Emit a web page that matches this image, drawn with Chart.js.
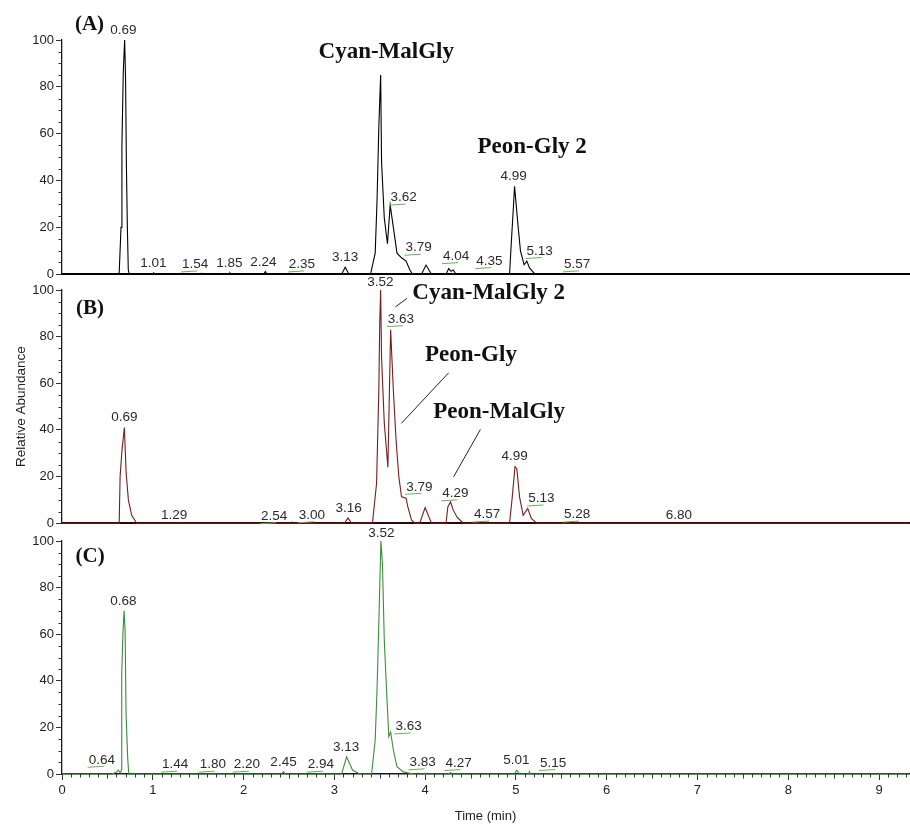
<!DOCTYPE html>
<html><head><meta charset="utf-8">
<script src="https://cdn.jsdelivr.net/npm/chart.js@4.4.1/dist/chart.umd.min.js"></script>
<style>
html,body{margin:0;padding:0;background:#fff;}
#wrap{position:relative;width:910px;height:826px;overflow:hidden;background:#fff;}
canvas{position:absolute;left:0;}
</style></head><body>
<div id="wrap">
<canvas id="cA" width="910" height="284" style="top:0px"></canvas>
<canvas id="cB" width="910" height="268" style="top:265px"></canvas>
<canvas id="cC" width="910" height="306" style="top:520px"></canvas>
</div>
<script>
// ---------- DATA ----------
// Panel A trace
const timeA = [0,0.61,0.63,0.65,0.66,0.675,0.69,0.70,0.71,0.72,0.73,0.74,1.00,1.01,1.02,1.53,1.54,1.55,1.84,1.85,1.86,2.22,2.24,2.26,3.08,3.12,3.16,3.40,3.45,3.47,3.49,3.51,3.52,3.55,3.585,3.615,3.65,3.69,3.74,3.79,3.83,3.86,3.96,4.01,4.07,4.23,4.26,4.285,4.31,4.34,4.93,4.95,4.97,4.985,5.00,5.025,5.05,5.08,5.09,5.12,5.15,5.21,9.33];
const abundanceA = [0,0,0.5,20,55,86,100,84,45,20,2,0,0,0.6,0,0,0.4,0,0,0.6,0,0,1.2,0,0,3,0,0.3,9,31,63,85,48,24,13,29.5,20,9,7,5.6,2,0,0,3.9,0,0,2.4,1.2,1.8,0,0,14,27,37.5,31,20,10,5.6,4,5.6,2.7,0,0];
// Panel B trace
const timeB = [0,0.63,0.64,0.66,0.687,0.706,0.731,0.768,0.823,1.28,1.29,1.30,2.53,2.54,2.55,3.11,3.15,3.19,3.42,3.465,3.49,3.50,3.51,3.52,3.55,3.59,3.62,3.65,3.68,3.71,3.74,3.79,3.81,3.85,3.89,3.94,4.00,4.07,4.23,4.25,4.28,4.31,4.35,4.42,4.56,4.57,4.58,4.93,4.96,4.99,5.01,5.04,5.08,5.13,5.17,5.23,9.33];
const abundanceB = [0,0,20,31,41,22,10,3.4,0,0,0.4,0,0,0.5,0,0,2.2,0,0.2,17,57,86,100,71,43,24,83,57,35.6,20,11.3,10.7,7,1.3,0,0,6.7,0,0,7,9.1,5.6,2.7,0,0,0.4,0,0,11.3,24.2,23.5,11.3,3.4,6.3,2,0,0];
// Panel C trace
const timeC = [0,0.55,0.60,0.62,0.645,0.655,0.658,0.672,0.684,0.695,0.706,0.724,0.735,2.42,2.44,2.46,3.08,3.135,3.20,3.28,3.41,3.45,3.47,3.49,3.513,3.53,3.55,3.575,3.60,3.62,3.65,3.69,3.76,3.83,3.90,3.99,4.00,4.01,4.26,4.28,4.30,4.98,5.01,5.04,5.14,5.15,5.16,9.33];
const abundanceC = [0,0,0.8,1.7,0.3,2,43,61,70,62,25,6.7,0,0,1,0,0,7.4,1.7,0,0,14.6,36,65,100,90,57.5,36,16,18,10.3,3.1,0.9,0.3,0,0,0.5,0,0,0.6,0,0,1.6,0,0,1,0,0];

// Retention-time labels shown above peaks
const peakRtA = ['0.69','1.01','1.54','1.85','2.24','2.35','3.13','3.62','3.79','4.04','4.35','4.99','5.13','5.57'];
const peakRtB = ['0.69','1.29','2.54','3.00','3.16','3.52','3.63','3.79','4.29','4.57','4.99','5.13','5.28','6.80'];
const peakRtC = ['0.68','0.64','1.44','1.80','2.20','2.45','2.94','3.13','3.52','3.63','3.83','4.27','5.01','5.15'];

// Compound names
const compoundsA = ['Cyan-MalGly','Peon-Gly 2'];
const compoundsB = ['Cyan-MalGly 2','Peon-Gly','Peon-MalGly'];
const panelNames = ['(A)','(B)','(C)'];

// Axis settings
const timeRange = [0, 9.33];
const abundanceRange = [0, 100];
const xTitle = 'Time (min)';
const yTitle = 'Relative Abundance';

// ---------- LAYOUT (positions of texts in data units) ----------
const rtPosA = [[0.676,104.0],[1.007,4.85],[1.466,4.16],[1.845,4.85],[2.219,5.28],[2.643,4.16],[3.12,7.3],[3.763,32.7],[3.928,11.3],[4.341,7.7],[4.708,5.6],[4.976,41.6],[5.262,9.9],[5.675,4.2]];
const rtLineA = [0,0,1,0,0,1,0,1,1,1,1,0,1,1];
const rtPosB = [[0.687,45.6],[1.235,3.4],[2.337,3.0],[2.753,3.4],[3.157,6.3],[3.506,103.4],[3.734,87.5],[3.936,15.6],[4.333,12.8],[4.682,3.7],[4.987,28.5],[5.281,10.6],[5.675,3.7],[6.795,3.4]];
const rtLineB = [0,0,1,1,0,0,1,1,1,1,0,1,1,0];
const rtPosC = [[0.676,74.1],[0.438,6.1],[1.246,4.0],[1.661,4.0],[2.036,4.0],[2.44,5.0],[2.852,4.0],[3.131,11.6],[3.517,103.4],[3.818,20.4],[3.972,5.0],[4.369,4.7],[5.006,5.8],[5.41,4.7]];
const rtLineC = [0,1,1,1,1,0,1,0,0,1,1,1,0,1];
const compoundPosA = [[3.572,95.0],[5.179,54.2]];
const compoundPosB = [[4.70,98.7],[4.504,72.2],[4.815,47.8]];
const leaderB = [[[3.671,92.7],[3.80,96.4]],[[4.259,64.5],[3.738,42.8]],[[4.609,40.2],[4.314,19.9]]];
const panelPos = [[0.303,106.4],[0.309,92.2],[0.309,93.1]];

const SANS = '"Liberation Sans", Arial, sans-serif';
const SERIF = '"Liberation Serif", "Times New Roman", serif';

function makeTextPlugin(cfg) {
  return {
    id: 'peakText' + cfg.idx,
    afterDatasetsDraw(chart) {
      const ctx = chart.ctx, x = chart.scales.x, y = chart.scales.y;
      const area = chart.chartArea;
      ctx.save();
      // minor y ticks every 5
      ctx.strokeStyle = '#333'; ctx.lineWidth = 1;
      for (let v = 5; v < 100; v += 5) {
        if (v % 20 === 0) continue;
        const py = Math.round(y.getPixelForValue(v)) + 0.5;
        ctx.beginPath(); ctx.moveTo(area.left - 3.5, py); ctx.lineTo(area.left, py); ctx.stroke();
      }
      if (cfg.showX) {
        for (let k = 1; k <= 93; k++) {
          if (k % 10 === 0) continue;
          const px = Math.round(x.getPixelForValue(k / 10)) + 0.5;
          const len = (k % 5 === 0) ? 4.5 : 3.5;
          ctx.beginPath(); ctx.moveTo(px, area.bottom); ctx.lineTo(px, area.bottom + len); ctx.stroke();
        }
      }
      // retention-time labels
      ctx.font = '13.5px ' + SANS;
      ctx.textAlign = 'center'; ctx.textBaseline = 'middle';
      cfg.rt.forEach((txt, i) => {
        const px = x.getPixelForValue(cfg.rtPos[i][0]);
        const py = y.getPixelForValue(cfg.rtPos[i][1]);
        ctx.fillStyle = '#2a2a2a';
        ctx.fillText(txt, px, py);
        if (cfg.rtLine[i]) {
          const w = ctx.measureText(txt).width;
          ctx.strokeStyle = '#69b057'; ctx.lineWidth = 1;
          ctx.beginPath(); ctx.moveTo(px - w / 2 - 1, py + 7.5); ctx.lineTo(px + 2, py + 6.5); ctx.stroke();
        }
      });
      // compound names
      ctx.font = 'bold 23px ' + SERIF;
      ctx.fillStyle = '#111';
      cfg.names.forEach((txt, i) => {
        ctx.fillText(txt, x.getPixelForValue(cfg.namePos[i][0]), y.getPixelForValue(cfg.namePos[i][1]));
      });
      // leader lines
      ctx.strokeStyle = '#222'; ctx.lineWidth = 1;
      cfg.leaders.forEach(seg => {
        ctx.beginPath();
        ctx.moveTo(x.getPixelForValue(seg[0][0]), y.getPixelForValue(seg[0][1]));
        ctx.lineTo(x.getPixelForValue(seg[1][0]), y.getPixelForValue(seg[1][1]));
        ctx.stroke();
      });
      // panel name
      ctx.font = 'bold 21px ' + SERIF;
      ctx.fillStyle = '#111';
      ctx.fillText(cfg.panel, x.getPixelForValue(cfg.panelPos[0]), y.getPixelForValue(cfg.panelPos[1]));
      ctx.restore();
    }
  };
}

function makeChart(id, cfg) {
  const pts = cfg.time.map((t, i) => ({ x: t, y: cfg.abundance[i] }));
  const xScale = cfg.showX ? {
    type: 'linear', min: timeRange[0], max: timeRange[1],
    ticks: { stepSize: 1, includeBounds: false, color: '#222', font: { family: SANS, size: 13 }, padding: 3, maxRotation: 0, autoSkip: false },
    grid: { display: true, drawOnChartArea: false, drawTicks: true, tickLength: 6, color: '#333' },
    border: { display: true, color: '#1a1a1a', width: 1.5 },
    title: { display: true, text: xTitle, color: '#222', font: { family: SANS, size: 13 }, padding: { top: 0, bottom: 1.5 } },
    afterFit: s => { s.height = 52; }
  } : {
    type: 'linear', min: timeRange[0], max: timeRange[1],
    ticks: { display: false },
    grid: { display: false },
    border: { display: true, color: cfg.baseColor, width: 2 },
    afterFit: s => { s.height = 0; }
  };
  return new Chart(document.getElementById(id), {
    type: 'line',
    data: { datasets: [{ data: pts, borderColor: cfg.color, borderWidth: 1.1, pointRadius: 0, tension: 0, fill: false, clip: false }] },
    options: {
      responsive: false, animation: false, events: [],
      layout: { padding: { top: cfg.padTop, bottom: cfg.padBottom, left: 0, right: 1 } },
      plugins: { legend: { display: false }, tooltip: { enabled: false } },
      scales: {
        x: xScale,
        y: {
          type: 'linear', min: abundanceRange[0], max: abundanceRange[1],
          ticks: { stepSize: 20, color: '#222', font: { family: SANS, size: 13 }, padding: 2 },
          grid: { display: true, drawOnChartArea: false, tickLength: 6, color: '#333' },
          border: { display: true, color: '#1a1a1a', width: 1.3 },
          title: { display: !!cfg.yTitle, text: yTitle, color: '#222', font: { family: SANS, size: 13.5 }, padding: { top: 13, bottom: 0 } },
          afterFit: s => { s.width = 62; }
        }
      }
    },
    plugins: [makeTextPlugin(cfg)]
  });
}

makeChart('cA', { idx: 0, time: timeA, abundance: abundanceA, color: '#000000', baseColor: '#000000', showX: false, padTop: 40, padBottom: 0,
  rt: peakRtA, rtPos: rtPosA, rtLine: rtLineA, names: compoundsA, namePos: compoundPosA, leaders: [], panel: panelNames[0], panelPos: panelPos[0] });
makeChart('cB', { idx: 1, time: timeB, abundance: abundanceB, color: '#7a1c1c', baseColor: '#2a0808', showX: false, padTop: 25, padBottom: 0, yTitle: true,
  rt: peakRtB, rtPos: rtPosB, rtLine: rtLineB, names: compoundsB, namePos: compoundPosB, leaders: leaderB, panel: panelNames[1], panelPos: panelPos[1] });
makeChart('cC', { idx: 2, time: timeC, abundance: abundanceC, color: '#3b8e3b', baseColor: '#111', showX: true, padTop: 21, padBottom: 0,
  rt: peakRtC, rtPos: rtPosC, rtLine: rtLineC, names: [], namePos: [], leaders: [], panel: panelNames[2], panelPos: panelPos[2] });
</script>
</body></html>
